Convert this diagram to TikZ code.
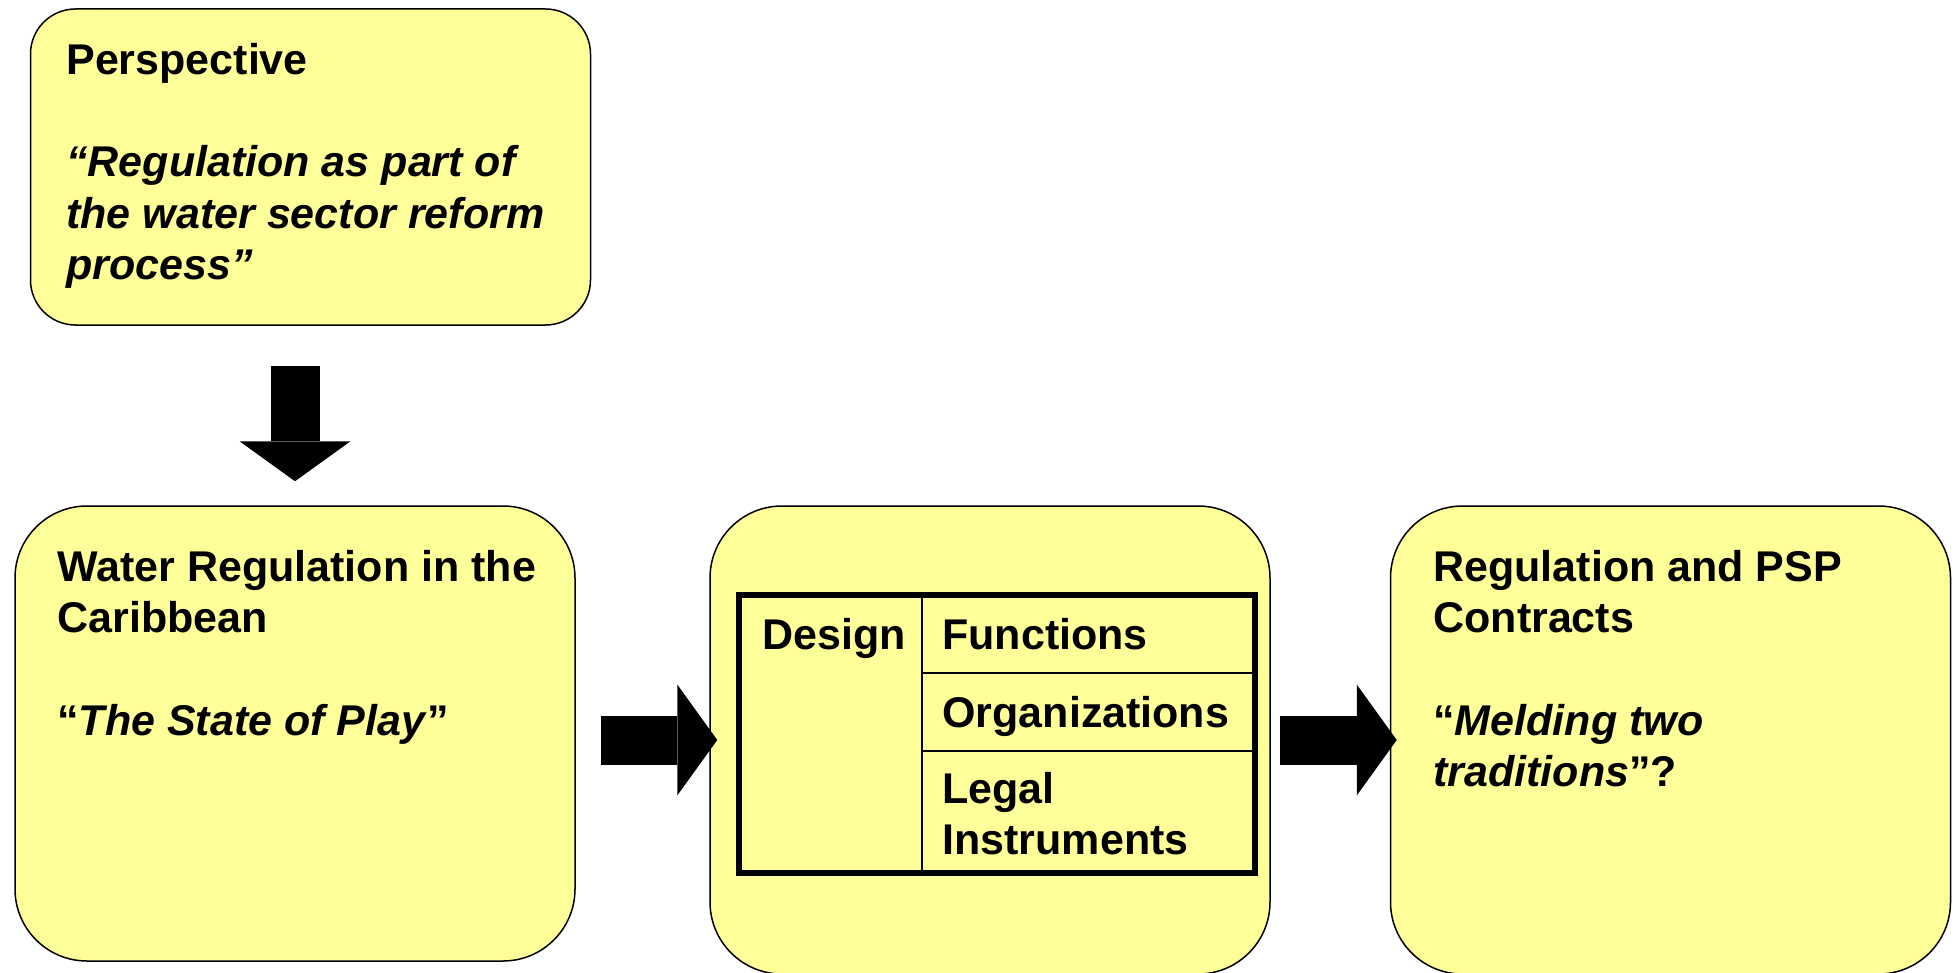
\documentclass[tikz,border=0pt]{standalone}
\usepackage{fontspec}
\setmainfont{Liberation Sans}
\usetikzlibrary{arrows.meta,positioning}
\definecolor{panelyellow}{HTML}{FFFF99}

\begin{document}
\begin{tikzpicture}[
                      x = 0.5pt,
                      y = -0.5pt,
      every node/.style = {inner sep=0pt, font=\bfseries\fontsize{21.5}{25.6}\selectfont},
           panel/.style = {draw, line width=0.75pt, fill=panelyellow,
                           minimum width=280pt, rounded corners=36pt},
             txt/.style = {anchor=north west, align=left},
            cell/.style = {draw, line width=1.2pt, minimum width=166pt},
      blockarrow/.style = {line width=24.5pt,
                           -{Triangle[length=20pt, width=55.5pt, line width'=0pt]}},
                     ]
\useasboundingbox (0,0) rectangle (1959,973);

% panels
\node[panel, minimum height=158pt, rounded corners=22.5pt] (persp) at (310.5,167) {};
\node[panel, minimum height=227.5pt] (water) at (295,733.5) {};
\node[panel, minimum height=234pt] (frame) at (990,740) {};
\node[panel, minimum height=234pt] (psp) at (1670.5,740) {};

\node[txt] (perspT) at (66,43) {Perspective\\[25.6pt]
    \textit{“Regulation as part of}\\ \textit{the water sector reform}\\ \textit{process”}};
\node[txt] (waterT) at (57,550) {Water Regulation in the\\ Caribbean\\[25.6pt]
    “\textit{The State of Play}”};
\node[txt] (pspT) at (1433,550) {Regulation and PSP\\ Contracts\\[25.6pt]
    “\textit{Melding two}\\ \textit{traditions}”?};

% design table
\node[cell, minimum width=91pt, minimum height=138pt] (design) at (831,734) {};
\node[cell, minimum height=38.5pt] (func) at (1088,634.5) {};
\node[cell, minimum height=39pt] (org) at (1088,712) {};
\node[cell, minimum height=60.5pt] (legal) at (1088,811.5) {};
\draw[line width=2.75pt] (design.north west) rectangle (legal.south east);

\node[anchor=base west] (designT) at (762,649) {Design};
\node[anchor=base west] (funcT) at (942,649) {Functions};
\node[anchor=base west] (orgT) at (942,727) {Organizations};
\node[txt] (legalT) at (942,772) {Legal\\ Instruments};

% arrows
\draw[blockarrow, shorten <=20pt, shorten >=12pt] (persp.south -| water.north) -- (water.north);
\draw[blockarrow, shorten <=12.5pt, shorten >=-4pt] (water.east |- frame.west) -- (frame.west);
\draw[blockarrow, shorten <=4.5pt, shorten >=-3.5pt] (frame.east) -- (psp.west);
\end{tikzpicture}
\end{document}
